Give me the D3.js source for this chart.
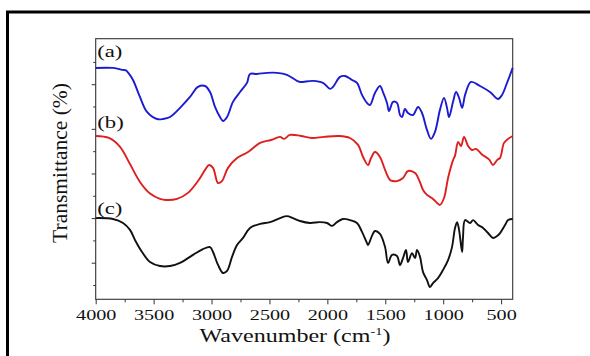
<!DOCTYPE html>
<html>
<head>
<meta charset="utf-8">
<script src="https://cdn.jsdelivr.net/npm/d3@7"></script>
<style>
  html, body { margin: 0; padding: 0; background: #fff; }
  svg { display: block; }
  text { font-family: "Liberation Serif", "Times New Roman", serif; fill: #111; }
</style>
</head>
<body>
<svg id="chart" width="590" height="356"></svg>
<script>
// FTIR spectra: [wavenumber (cm^-1), transmittance (arb. offset units)]
const xTickLabels = [4000, 3500, 3000, 2500, 2000, 1500, 1000, 500];
const xMinorTicks = [3750, 3250, 2750, 2250, 1750, 1250, 750];
const yMajorTicks = [20, 40, 60, 80, 100];
const yMinorTicks = [10, 30, 50, 70, 90, 110];
const curveLabels = ["(a)", "(b)", "(c)"];
const curveColors = ["#1b1bd2", "#dd1f1f", "#111111"];

const spectrumA = [
  [4000,107.3],[3850,107.3],[3764,106.4],[3740,106.2],[3720,105.2],[3678,101.9],[3618,94.3],
  [3557,87.6],[3471,84.4],[3419,84.4],[3358,85.3],[3272,89.4],[3186,94.3],[3117,98.8],
  [3056,99.2],[3013,96.5],[2970,89.8],[2927,85.3],[2901,83.5],[2866,85.3],[2815,92.1],
  [2754,96.5],[2694,100.6],[2668,104.6],[2607,104.6],[2521,105.1],[2435,105.1],[2349,104.2],
  [2262,101.5],[2236,101.0],[2124,101.5],[2038,100.6],[1977,97.9],[1951,98.8],[1891,103.3],
  [1848,103.7],[1787,101.9],[1744,100.6],[1701,95.2],[1658,91.6],[1632,90.7],[1589,96.1],
  [1546,99.2],[1520,96.5],[1485,91.6],[1468,88.0],[1433,92.1],[1399,91.6],[1373,86.2],
  [1355,85.3],[1330,88.9],[1304,87.1],[1261,86.2],[1217,89.8],[1183,87.1],[1140,79.5],
  [1105,75.5],[1071,78.6],[1028,88.5],[993,93.9],[967,89.4],[950,85.3],[915,92.1],
  [889,96.5],[863,93.9],[837,89.4],[811,95.2],[760,101.0],[682,99.2],[596,96.5],
  [526,93.4],[492,95.2],[449,100.6],[400,107.3]
];

const spectrumB = [
  [3997,76.8],[3885,75.9],[3790,71.9],[3704,64.2],[3618,56.2],[3531,51.0],[3445,48.6],
  [3393,48.1],[3298,48.6],[3203,51.3],[3117,56.6],[3056,61.6],[3022,63.8],[2987,62.5],
  [2944,55.7],[2910,56.6],[2858,62.5],[2780,66.9],[2685,69.6],[2581,73.7],[2487,75.0],
  [2409,76.4],[2374,75.5],[2323,77.3],[2228,76.8],[2133,75.9],[2029,76.4],[1900,76.8],
  [1805,75.9],[1735,72.8],[1692,67.4],[1649,63.8],[1623,66.9],[1589,69.6],[1546,67.4],
  [1502,61.6],[1459,57.1],[1433,56.6],[1399,56.6],[1347,58.0],[1304,61.1],[1243,60.2],
  [1200,56.0],[1174,52.6],[1140,50.4],[1114,49.5],[1088,48.6],[1053,46.8],[1028,45.9],
  [993,49.0],[958,58.0],[915,66.0],[898,68.0],[871,74.1],[846,72.3],[820,76.4],
  [785,72.3],[751,70.5],[717,71.0],[665,68.5],[604,66.3],[570,63.8],[535,66.0],
  [509,67.0],[475,73.7],[440,75.5],[400,76.8]
];

const spectrumC = [
  [4000,40.0],[3851,39.6],[3764,37.8],[3704,34.7],[3661,30.2],[3600,24.8],[3531,20.3],
  [3445,18.5],[3358,18.5],[3272,19.9],[3160,23.5],[3074,26.1],[3013,27.0],[2987,24.8],
  [2944,19.0],[2901,15.4],[2866,16.3],[2823,22.6],[2780,27.9],[2728,31.1],[2668,35.6],
  [2581,37.4],[2495,38.2],[2409,40.0],[2349,40.9],[2297,40.0],[2236,38.7],[2150,37.8],
  [2064,38.2],[2003,37.8],[1960,36.5],[1917,38.2],[1865,39.6],[1805,39.1],[1744,37.8],
  [1701,33.8],[1658,28.8],[1649,27.9],[1615,32.0],[1589,34.2],[1546,32.9],[1502,27.0],
  [1476,19.9],[1442,23.5],[1399,23.0],[1373,19.0],[1347,22.1],[1321,25.7],[1304,20.3],
  [1269,24.3],[1243,22.1],[1226,25.7],[1200,22.6],[1174,15.8],[1140,12.2],[1114,9.1],
  [1088,10.9],[1045,13.1],[1002,16.7],[958,21.2],[924,27.0],[898,35.6],[880,38.2],
  [863,34.7],[837,24.8],[829,31.5],[811,39.1],[768,37.8],[742,39.1],[699,36.9],
  [656,35.6],[613,33.3],[570,31.1],[535,32.0],[509,33.3],[466,36.9],[440,39.1],[400,39.6]
];

const spectra = [spectrumA, spectrumB, spectrumC];
const labelAnchors = [[4000, 112.2], [4000, 80.6], [4000, 42.0]];

const svg = d3.select("#chart");
const plot = { left: 95.7, right: 512.7, top: 38.7, bottom: 299.3 };

const x = d3.scaleLinear().domain([4000, 400]).range([plot.left, plot.right]);
const y = d3.scaleLinear().domain([3.6, 120.4]).range([plot.bottom, plot.top]);

// outer frame
svg.append("path")
  .attr("d", `M7.5,${356 + 5} L7.5,12 L${590 + 5},12`)
  .attr("fill", "none").attr("stroke", "#000").attr("stroke-width", 3);

// x axis: minor then major ticks, pointing outward
svg.append("g")
  .attr("transform", `translate(0,${plot.bottom})`)
  .call(d3.axisBottom(x).tickValues(xMinorTicks).tickSize(3).tickFormat(""))
  .call(g => g.select(".domain").remove())
  .call(g => g.selectAll("line").attr("stroke", "#333"));

const xMajor = svg.append("g")
  .attr("transform", `translate(0,${plot.bottom})`)
  .call(d3.axisBottom(x).tickValues(xTickLabels).tickSize(5).tickPadding(5).tickFormat(d3.format("d")))
  .call(g => g.select(".domain").remove());
xMajor.selectAll("line").attr("stroke", "#333");
xMajor.selectAll("text")
  .attr("font-size", 15.5)
  .attr("font-family", "'Liberation Serif', 'Times New Roman', serif")
  .attr("fill", "#111")
  .attr("transform", "scale(1.3,1)");

// y axis: unlabeled ticks
svg.append("g")
  .attr("transform", `translate(${plot.left},0)`)
  .call(d3.axisLeft(y).tickValues(yMinorTicks).tickSize(2.5).tickFormat(""))
  .call(g => g.select(".domain").remove())
  .call(g => g.selectAll("line").attr("stroke", "#333"));
svg.append("g")
  .attr("transform", `translate(${plot.left},0)`)
  .call(d3.axisLeft(y).tickValues(yMajorTicks).tickSize(4).tickFormat(""))
  .call(g => g.select(".domain").remove())
  .call(g => g.selectAll("line").attr("stroke", "#333"));

// plot box
svg.append("rect")
  .attr("x", plot.left).attr("y", plot.top)
  .attr("width", plot.right - plot.left).attr("height", plot.bottom - plot.top)
  .attr("fill", "none").attr("stroke", "#333").attr("stroke-width", 1.1);

// spectra
const line = d3.line()
  .x(d => x(d[0]))
  .y(d => y(d[1]))
  .curve(d3.curveCatmullRom.alpha(0.5));

svg.append("g").selectAll("path")
  .data(spectra)
  .join("path")
  .attr("d", line)
  .attr("fill", "none")
  .attr("stroke", (d, i) => curveColors[i])
  .attr("stroke-width", 1.9)
  .attr("stroke-linejoin", "round");

// curve labels
svg.append("g").selectAll("text")
  .data(curveLabels)
  .join("text")
  .attr("transform", (d, i) => `translate(${x(labelAnchors[i][0]) + 1.5},${y(labelAnchors[i][1])}) scale(1.3,1)`)
  .attr("font-size", 17.5)
  .text(d => d);

// axis titles
const xTitle = svg.append("text")
  .attr("transform", "translate(295,342) scale(1.3,1)")
  .attr("text-anchor", "middle")
  .attr("font-size", 18.5);
xTitle.append("tspan").text("Wavenumber (cm");
xTitle.append("tspan").attr("font-size", 11).attr("dy", -7).text("-1");
xTitle.append("tspan").attr("dy", 7).text(")");

svg.append("text")
  .attr("transform", "translate(67,163) rotate(-90)")
  .attr("text-anchor", "middle")
  .attr("font-size", 21.5)
  .text("Transmittance (%)");
</script>
</body>
</html>
